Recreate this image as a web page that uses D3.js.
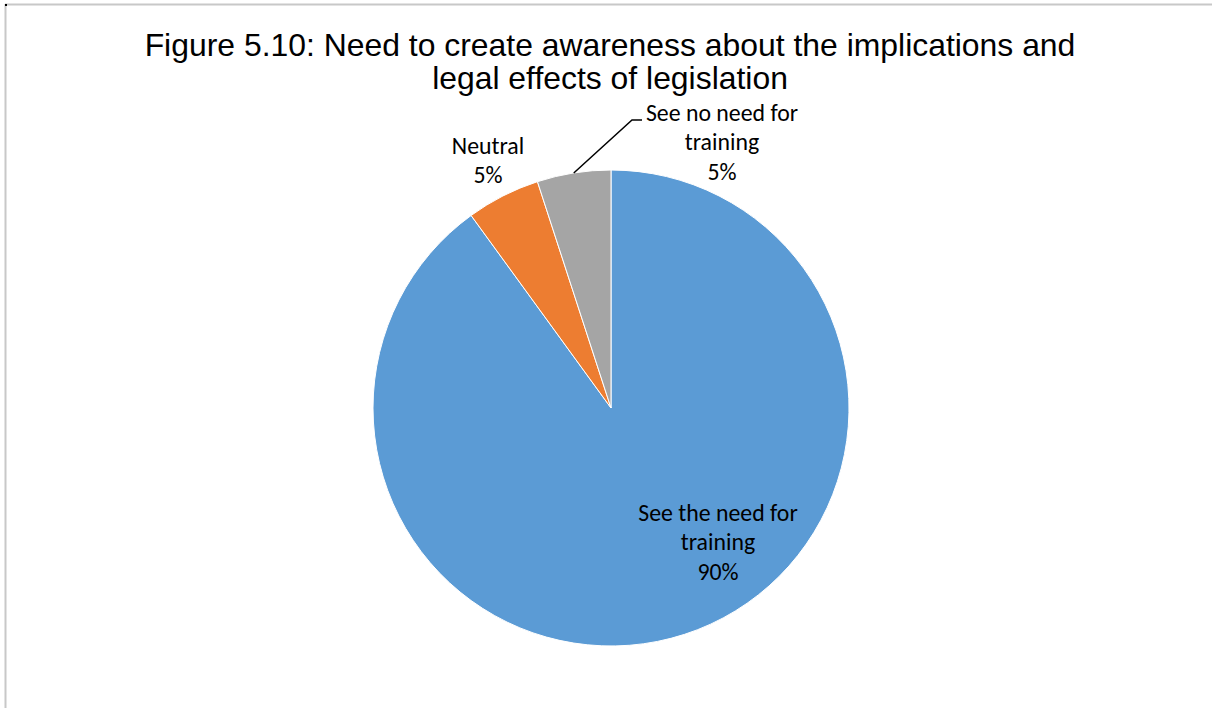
<!DOCTYPE html>
<html><head><meta charset="utf-8">
<script src="https://cdn.jsdelivr.net/npm/d3@7"></script>
<style>body{margin:0;background:#fff;}svg{display:block;}</style>
</head><body>
<script>
const categories = ["See the need for training", "Neutral", "See no need for training"];
const values = [90, 5, 5];
const labelLines = [["See the need for", "training", "90%"], ["Neutral", "5%"], ["See no need for", "training", "5%"]];
const colors = ["#5B9BD5", "#ED7D31", "#A5A5A5"];
const titleLines = ["Figure 5.10: Need to create awareness about the implications and", "legal effects of legislation"];

const W = 1212, H = 708;
const svg = d3.select("body").append("svg").attr("width", W).attr("height", H);

// frame
svg.append("line").attr("x1", 5).attr("x2", W).attr("y1", 4.5).attr("y2", 4.5).attr("stroke", "#c8c8c8").attr("stroke-width", 2);
svg.append("line").attr("x1", 5.5).attr("x2", 5.5).attr("y1", 4).attr("y2", H).attr("stroke", "#c8c8c8").attr("stroke-width", 2);
svg.append("rect").attr("x", 5).attr("y", 4).attr("width", 2).attr("height", 2).attr("fill", "#000");

// title
svg.append("g").selectAll("text").data(titleLines).join("text")
  .attr("x", 610).attr("y", (d, i) => 56 + i * 33)
  .attr("text-anchor", "middle")
  .attr("font-family", "Liberation Sans, Arial, sans-serif")
  .attr("font-size", 31.9).attr("fill", "#000").text(d => d);

const cx = 611, cy = 408, r = 238;
const pie = d3.pie().sort(null).value(d => d)(values);
const arc = d3.arc().innerRadius(0).outerRadius(r);
const g = svg.append("g").attr("transform", `translate(${cx},${cy})`);
g.selectAll("path").data(pie).join("path")
  .attr("d", arc).attr("fill", (d, i) => colors[i])
  .attr("stroke", "#fff").attr("stroke-width", 1);

// labels
const labelPos = [[718, 515], [488, 148], [722, 115]];
const lineH = 29.5;
labelLines.forEach((lines, i) => {
  svg.append("g").selectAll("text").data(lines).join("text")
    .attr("x", labelPos[i][0]).attr("y", (d, j) => labelPos[i][1] + j * lineH)
    .attr("text-anchor", "middle")
    .attr("dominant-baseline", "middle")
    .attr("font-family", "Carlito, 'Open Sans', 'Noto Sans', sans-serif")
    .attr("font-size", 23.8).attr("fill", "#000").text(d => d);
});

// leader line for grey slice
const gs = pie[2];
const midA = (gs.startAngle + gs.endAngle) / 2;
const px = cx + Math.sin(midA) * r, py = cy - Math.cos(midA) * r;
svg.append("polyline")
  .attr("points", `${px},${py} ${632},${120} ${642},${120}`)
  .attr("fill", "none").attr("stroke", "#000").attr("stroke-width", 1.5);
</script>
</body></html>
